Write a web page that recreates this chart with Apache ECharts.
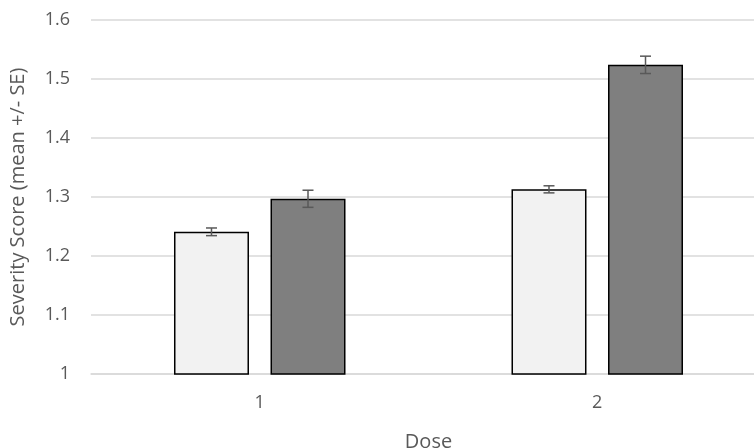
<!DOCTYPE html>
<html><head><meta charset="utf-8">
<script src="https://cdn.jsdelivr.net/npm/echarts@6/dist/echarts.min.js"></script>
<style>html,body{margin:0;padding:0;background:#fff}#c{width:754px;height:448px}</style>
</head><body><div id="c"></div>
<script>
var categories = ['1', '2'];
var lightMeans = [1.241, 1.313];
var lightSE = [0.0065, 0.006];
var darkMeans = [1.297, 1.524];
var darkSE = [0.0145, 0.0147];
var yTicks = [1, 1.1, 1.2, 1.3, 1.4, 1.5, 1.6];

var BAR_W = 0.2222, BAR_GAP = 0.287;
var FONT = '"Open Sans", "Noto Sans", sans-serif';

function errSeries(means, se, idx) {
  return {
    type: 'custom', z: 10,
    data: means.map(function (m, i) { return [i, m - se[i], m + se[i]]; }),
    renderItem: function (params, api) {
      var band = api.size([1, 0])[0];
      var bw = band * BAR_W, gap = bw * BAR_GAP;
      var off = (idx === 0 ? -1 : 1) * (bw + gap) / 2;
      var lo = api.coord([api.value(0), api.value(1)]);
      var hi = api.coord([api.value(0), api.value(2)]);
      var x = lo[0] + off, hw = 5.5;
      var st = { stroke: '#595959', lineWidth: 1.5 };
      return { type: 'group', children: [
        { type: 'line', shape: { x1: x, y1: lo[1], x2: x, y2: hi[1] }, style: st },
        { type: 'line', shape: { x1: x - hw, y1: lo[1], x2: x + hw, y2: lo[1] }, style: st },
        { type: 'line', shape: { x1: x - hw, y1: hi[1], x2: x + hw, y2: hi[1] }, style: st }
      ]};
    }
  };
}

var chart = echarts.init(document.getElementById('c'));
chart.setOption({
  animation: false,
  textStyle: { fontFamily: FONT },
  grid: { left: 91, right: -12, top: 20, bottom: 74, containLabel: false, outerBoundsMode: 'none' },
  xAxis: {
    type: 'category', data: categories,
    name: 'Dose', nameLocation: 'middle', nameGap: 58,
    nameTextStyle: { fontSize: 20, color: '#595959', fontFamily: FONT },
    axisLine: { lineStyle: { color: '#d9d9d9', width: 1.5 } },
    axisTick: { show: false },
    axisLabel: { fontSize: 18, color: '#595959', margin: 20, fontFamily: FONT }
  },
  yAxis: {
    type: 'value', min: yTicks[0], max: yTicks[yTicks.length - 1], interval: 0.1,
    name: 'Severity Score (mean +/- SE)', nameLocation: 'middle', nameGap: 63,
    nameTextStyle: { fontSize: 20, color: '#595959', fontFamily: FONT },
    axisLine: { show: false }, axisTick: { show: false },
    axisLabel: { fontSize: 18, color: '#595959', margin: 21, fontFamily: FONT,
      formatter: function (v) { return String(Math.round(v * 10) / 10); } },
    splitLine: { lineStyle: { color: '#d9d9d9', width: 1.5 } }
  },
  series: [
    { type: 'bar', data: lightMeans, barWidth: (BAR_W * 100) + '%', barGap: (BAR_GAP * 100) + '%',
      itemStyle: { color: '#f2f2f2', borderColor: '#000', borderWidth: 1.5 } },
    { type: 'bar', data: darkMeans, barWidth: (BAR_W * 100) + '%', barGap: (BAR_GAP * 100) + '%',
      itemStyle: { color: '#7f7f7f', borderColor: '#000', borderWidth: 1.5 } },
    errSeries(lightMeans, lightSE, 0),
    errSeries(darkMeans, darkSE, 1)
  ]
});
</script></body></html>
